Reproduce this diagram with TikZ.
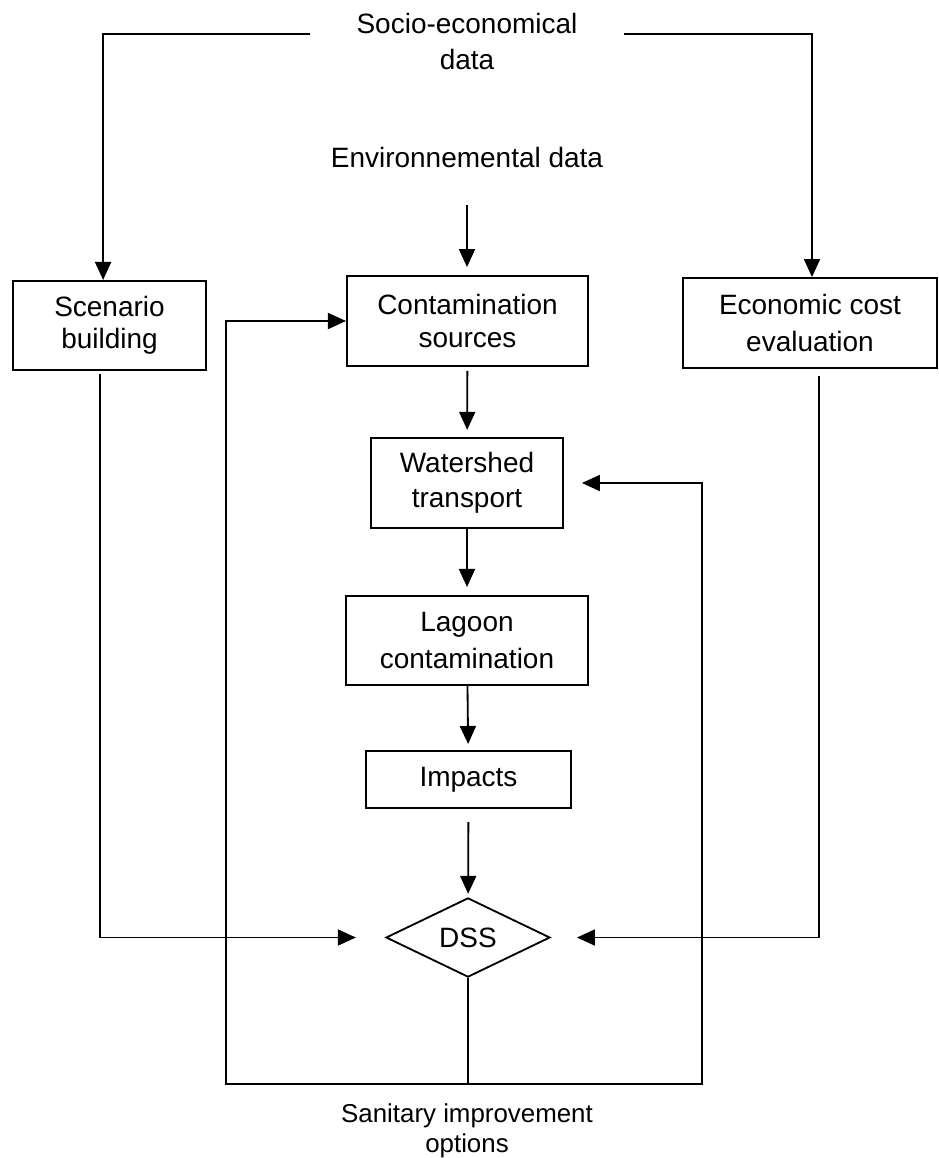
\documentclass[tikz,border=0pt]{standalone}
\usepackage{fontspec}
\setmainfont{Liberation Sans}
\usetikzlibrary{arrows.meta, shapes.geometric, calc}

\begin{document}
\begin{tikzpicture}[
        x=0.025cm, y=-0.025cm,
        box/.style={rectangle, draw, line width=1.3pt, align=center, inner sep=0pt, font=\fontsize{19.9}{25.6}\selectfont},
        dec/.style={diamond, draw, line width=1.3pt, inner sep=0pt, aspect=2.08, minimum width=4.1cm, minimum height=1.98cm, font=\fontsize{19.9}{24}\selectfont},
        txt/.style={align=center, font=\fontsize{19.9}{25.6}\selectfont},
        arrow/.style={-{Triangle[length=0.45cm, width=0.4cm]}, line width=1.3pt},
        link/.style={line width=1.3pt}
    ]

    \useasboundingbox (0,0) rectangle (939,1158);

    % Input data
    \node[txt, inner xsep=1.15cm] (socio) at (467,41) {Socio-economical\\data};
    \node[txt] (env) at (467,157) {Environnemental data};

    % Main boxes
    \node[box, minimum width=4.83cm, minimum height=2.23cm, font=\fontsize{19.9}{22.7}\selectfont] (scen) at (109.5,325.5) {Scenario\\building};
    \node[box, minimum width=6.03cm, minimum height=2.25cm, font=\fontsize{19.9}{23.4}\selectfont] (cont) at (467.5,321) {Contamination\\sources};
    \node[box, minimum width=6.35cm, minimum height=2.25cm, font=\fontsize{19.9}{26.8}\selectfont] (econ) at (810,323) {Economic cost\\evaluation};
    \node[box, minimum width=4.8cm, minimum height=2.25cm, font=\fontsize{19.9}{24.9}\selectfont] (wsh) at (467,483) {Watershed\\transport};
    \node[box, minimum width=6.05cm, minimum height=2.23cm, font=\fontsize{19.9}{26.3}\selectfont] (lag) at (467,640.5) {Lagoon\\contamination};
    \node[box, minimum width=5.13cm, minimum height=1.43cm] (imp) at (468.5,779.5) {Impacts};
    \node[dec] (dss) at (468,937.5) {DSS};

    % Output
    \node[txt, font=\fontsize{18.4}{21.3}\selectfont] (opt) at (467,1131) {Sanitary improvement\\options};

    % --- Data inputs ---
    \draw[arrow] ([yshift=0.18cm]socio.west) -| ([xshift=-0.16cm]scen.north);
    \draw[arrow] ([yshift=0.18cm]socio.east) -| ([xshift=0.05cm]econ.north);
    \draw[arrow, shorten <=0.83cm, shorten >=0.2cm] (env.south) -- (env.south |- cont.north);

    % --- Main chain ---
    \draw[arrow, shorten <=0.1cm, shorten >=0.18cm] (cont) -- (wsh);
    \draw[arrow, shorten >=0.2cm] (wsh) -- (lag);
    \draw[arrow, shorten >=0.15cm] (lag) -- (imp);
    \draw[arrow, shorten <=0.33cm, shorten >=0.08cm] (imp) -- (dss);

    % --- Side inputs to DSS ---
    \draw[arrow, shorten <=0.08cm, shorten >=0.73cm] ([xshift=-0.24cm]scen.south) |- (dss.west);
    \draw[arrow, shorten <=0.18cm, shorten >=0.65cm] ([xshift=0.23cm]econ.south) |- (dss.east);

    % --- Feedback loop ---
    \coordinate (fbl) at (226,1084);
    \coordinate (fbr) at (702,1084);
    \draw[link] (dss.south) -- (dss.south |- fbl);
    \draw[arrow] (dss.south |- fbl) -- (fbl) |- (cont.west);
    \draw[arrow, shorten >=0.45cm] (dss.south |- fbl) -- (fbr) |- (wsh.east);

\end{tikzpicture}
\end{document}
